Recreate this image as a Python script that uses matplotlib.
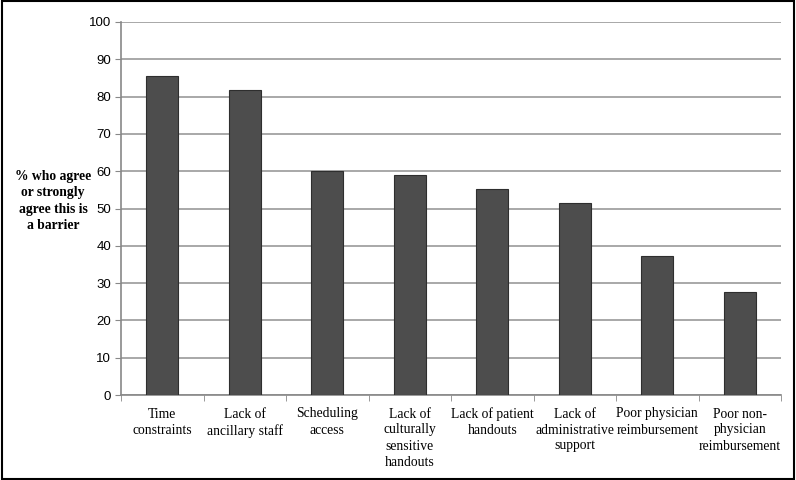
import matplotlib.pyplot as plt
import numpy as np
from matplotlib.patches import Rectangle

categories = ['Time\nconstraints', 'Lack of\nancillary staff', 'Scheduling\naccess',
              'Lack of\nculturally\nsensitive\nhandouts', 'Lack of patient\nhandouts',
              'Lack of\nadministrative\nsupport', 'Poor physician\nreimbursement',
              'Poor non-\nphysician\nreimbursement']
values = [85.4, 81.8, 60.0, 58.9, 55.3, 51.6, 37.2, 27.7]
yticks = list(range(0, 101, 10))

serif = ['Liberation Serif', 'DejaVu Serif']
sans = ['Liberation Sans', 'DejaVu Sans']


def main():
    fig = plt.figure(figsize=(7.96, 4.8), dpi=100)
    ax = fig.add_axes([121 / 796, 1 - 395 / 480, 660 / 796, 373 / 480])

    x = np.arange(len(values))
    ax.bar(x, values, width=0.39, color='#4d4d4d', edgecolor='#2e2e2e', linewidth=0.8, zorder=3)

    ax.set_xlim(-0.5, len(values) - 0.5)
    ax.set_ylim(0, 100)
    ax.set_yticks(yticks)
    ax.set_yticklabels([str(t) for t in yticks], family=sans, fontsize=9.5)
    ax.yaxis.grid(True, color='#9a9a9a', linewidth=1.2, zorder=0)

    ax.set_xticks(x)
    ax.set_xticklabels(categories, family=serif, fontsize=9.8, linespacing=1.3)
    ax.tick_params(axis='x', length=0, pad=9)
    ax.set_xticks(np.arange(-0.5, len(values)), minor=True)
    ax.tick_params(axis='x', which='minor', length=4, color='#888888', direction='out')
    ax.tick_params(axis='y', length=4, color='#888888', direction='out', pad=3)

    for s in ['top', 'right']:
        ax.spines[s].set_visible(False)
    for s in ['left', 'bottom']:
        ax.spines[s].set_color('#888888')
        ax.spines[s].set_linewidth(1.2)

    fig.text(53 / 796, 1 - 201 / 480, '% who agree\nor strongly\nagree this is\na barrier',
             family=serif, fontsize=9.8, fontweight='bold', ha='center', va='center',
             linespacing=1.35)

    fig.patches.append(Rectangle((0.002, 0.003), 0.995, 0.994, transform=fig.transFigure,
                                 fill=False, edgecolor='black', linewidth=1.5))

    fig.savefig('out.png', dpi=100)


if __name__ == '__main__':
    main()
